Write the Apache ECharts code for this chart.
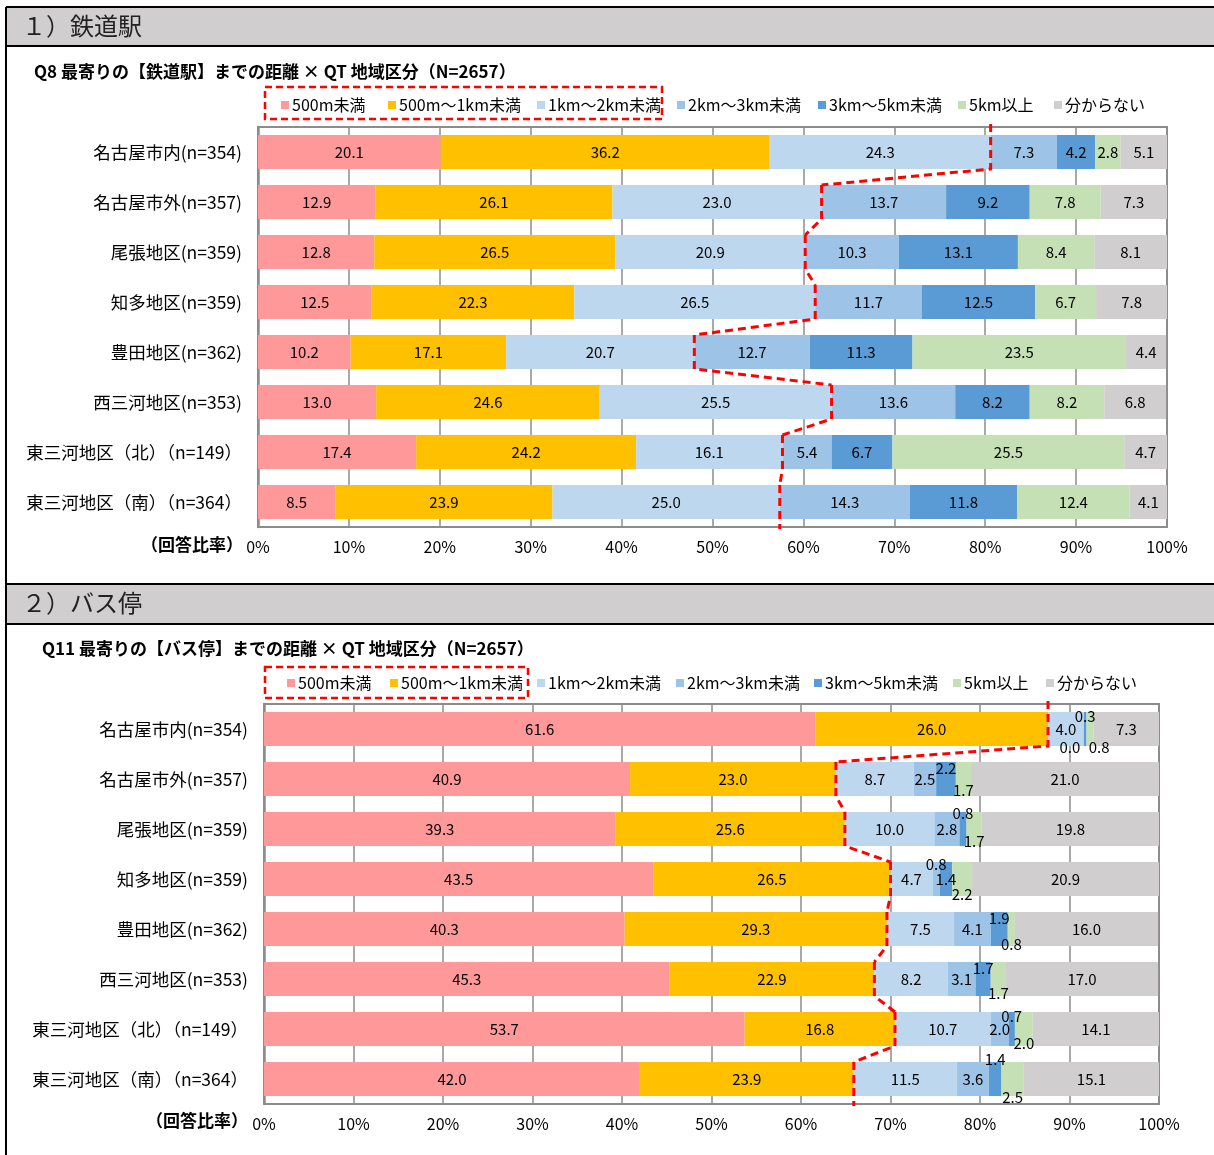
<!DOCTYPE html>
<html><head><meta charset="utf-8">
<script src="https://cdn.jsdelivr.net/npm/echarts@6/dist/echarts.min.js"></script>
<style>html,body{margin:0;padding:0;background:#fff}#c{width:1214px;height:1155px}</style>
</head><body><div id="c"></div>
<script>
// ---- data ----
const categories = ['名古屋市内(n=354)','名古屋市外(n=357)','尾張地区(n=359)','知多地区(n=359)','豊田地区(n=362)','西三河地区(n=353)','東三河地区（北）（n=149）','東三河地区（南）（n=364）'];
const seriesNames = ['500m未満','500m～1km未満','1km～2km未満','2km～3km未満','3km～5km未満','5km以上','分からない'];
const xTickLabels = ['0%','10%','20%','30%','40%','50%','60%','70%','80%','90%','100%'];

const railUnder500 = [20.1,12.9,12.8,12.5,10.2,13.0,17.4,8.5];
const rail500to1k  = [36.2,26.1,26.5,22.3,17.1,24.6,24.2,23.9];
const rail1to2k    = [24.3,23.0,20.9,26.5,20.7,25.5,16.1,25.0];
const rail2to3k    = [7.3,13.7,10.3,11.7,12.7,13.6,5.4,14.3];
const rail3to5k    = [4.2,9.2,13.1,12.5,11.3,8.2,6.7,11.8];
const railOver5k   = [2.8,7.8,8.4,6.7,23.5,8.2,25.5,12.4];
const railUnknown  = [5.1,7.3,8.1,7.8,4.4,6.8,4.7,4.1];

const busUnder500 = [61.6,40.9,39.3,43.5,40.3,45.3,53.7,42.0];
const bus500to1k  = [26.0,23.0,25.6,26.5,29.3,22.9,16.8,23.9];
const bus1to2k    = [4.0,8.7,10.0,4.7,7.5,8.2,10.7,11.5];
const bus2to3k    = [0.0,2.5,2.8,0.8,4.1,3.1,2.0,3.6];
const bus3to5k    = [0.3,2.2,0.8,1.4,1.9,1.7,0.7,1.4];
const busOver5k   = [0.8,1.7,1.7,2.2,0.8,1.7,2.0,2.5];
const busUnknown  = [7.3,21.0,19.8,20.9,16.0,17.0,14.1,15.1];

// ---- styling ----
const colors = ['#FF9999','#FFC000','#BDD7EE','#9DC3E6','#5B9BD5','#C5E0B4','#D0CECE'];
const FONT = 'Noto Sans CJK JP';
const GRAY = '#8c8c8c';
// label nudges for tiny segments in chart 2: "row-series": [dx, dy]
const busLabelNudge = {
  '0-3':[-14,18],'0-4':[0,-13],'0-5':[9,18],
  '1-4':[0,-11],'1-5':[0,11],
  '2-4':[0,-16],'2-5':[0,12],
  '3-3':[0,-15],'3-5':[0,15],
  '4-4':[0,-11],'4-5':[0,15],
  '5-4':[0,-11],'5-5':[0,14],
  '6-4':[0,-13],'6-5':[0,14],
  '7-4':[0,-20],'7-5':[0,18]
};

const railSets = [railUnder500,rail500to1k,rail1to2k,rail2to3k,rail3to5k,railOver5k,railUnknown];
const busSets  = [busUnder500,bus500to1k,bus1to2k,bus2to3k,bus3to5k,busOver5k,busUnknown];

function cumulative(sets, k){
  return categories.map((_,i)=>{let s=0;for(let j=0;j<k;j++) s+=sets[j][i];return +s.toFixed(1);});
}

function barSeries(sets, g, nudge){
  return sets.map((arr, si)=>({
    type:'bar', name:seriesNames[si], stack:'s'+g, xAxisIndex:g, yAxisIndex:g,
    barCategoryGap:'32%',
    itemStyle:{color:colors[si]},
    label:{show:true, position:'inside', color:'#000', fontSize:15, fontFamily:FONT,
      formatter:p=>Number(p.value).toFixed(1)},
    data: arr.map((v,ri)=>{
      const n = nudge && nudge[ri+'-'+si];
      return n ? {value:v, label:{offset:n}} : v;
    }),
    z:2
  }));
}

function boundary(cum, g){
  const n = cum.length;
  return {
    type:'custom', xAxisIndex:g, yAxisIndex:g, silent:true, z:10, clip:false,
    data: cum.map((v,i)=>[v,i]),
    encode:{x:0,y:1},
    renderItem:(params, api)=>{
      const i = params.dataIndex;
      const p = api.coord([cum[i], i]);
      const band = api.size([0,1])[1];
      const half = band*0.34;
      const cs = params.coordSys;
      const top = i===0 ? cs.y-3 : p[1]-half;
      const bot = i===n-1 ? cs.y+cs.height+2 : p[1]+half;
      const pts = [[p[0],top],[p[0],bot]];
      if(i<n-1){const q = api.coord([cum[i+1], i+1]); pts.push([q[0], q[1]-half]);}
      return {type:'polyline', shape:{points:pts},
        style:{stroke:'#FF0000', lineWidth:3, lineDash:[8,5], fill:null}};
    }
  };
}

function xAxis(g){
  return {gridIndex:g, type:'value', min:0, max:100, interval:10,
    axisLabel:{formatter:v=>xTickLabels[Math.round(v/10)], fontSize:16, color:'#000', margin:12, fontFamily:FONT},
    splitLine:{lineStyle:{color:GRAY, width:1.5}},
    axisLine:{show:false}, axisTick:{show:false}};
}
function yAxis(g){
  return {gridIndex:g, type:'category', data:categories, inverse:true,
    axisLine:{lineStyle:{color:GRAY, width:2.5}},
    axisTick:{length:5, lineStyle:{color:GRAY, width:1.5}},
    axisLabel:{fontSize:17.5, color:'#000', margin:16, fontFamily:FONT}};
}

function legends(xs, cy){
  return seriesNames.map((nm,i)=>({
    data:[nm], left:xs[i], top:cy-10, padding:0, itemWidth:8, itemHeight:8, icon:'rect',
    selectedMode:false,
    textStyle:{fontSize:16, color:'#000', fontFamily:FONT, lineHeight:20, padding:[0,0,0,-2]}
  }));
}

const railCum = cumulative(railSets, 3);
const busCum  = cumulative(busSets, 2);

const graphic = [
  // frame + section headers
  {type:'rect', shape:{x:6,y:7,width:1210,height:39}, style:{fill:'#D0CECE', stroke:null}},
  {type:'rect', shape:{x:6,y:584,width:1210,height:40}, style:{fill:'#D0CECE', stroke:null}},
  {type:'line', shape:{x1:6,y1:7,x2:1214,y2:7}, style:{stroke:'#000', lineWidth:2}},
  {type:'line', shape:{x1:6,y1:46,x2:1214,y2:46}, style:{stroke:'#000', lineWidth:2}},
  {type:'line', shape:{x1:6,y1:584,x2:1214,y2:584}, style:{stroke:'#000', lineWidth:2}},
  {type:'line', shape:{x1:6,y1:624,x2:1214,y2:624}, style:{stroke:'#000', lineWidth:2}},
  {type:'line', shape:{x1:6,y1:7,x2:6,y2:1155}, style:{stroke:'#000', lineWidth:2}},
  {type:'text', left:22, top:14, style:{text:'１）鉄道駅', fontSize:24, fill:'#222', fontFamily:FONT}},
  {type:'text', left:22, top:591, style:{text:'２）バス停', fontSize:24, fill:'#222', fontFamily:FONT}},
  // titles
  {type:'text', left:34, top:63, style:{text:'Q8 最寄りの【鉄道駅】までの距離 × QT 地域区分（N=2657）', fontSize:17, fontWeight:'bold', fill:'#000', fontFamily:FONT}},
  {type:'text', left:42, top:640, style:{text:'Q11 最寄りの【バス停】までの距離 × QT 地域区分（N=2657）', fontSize:17, fontWeight:'bold', fill:'#000', fontFamily:FONT}},
  // axis captions
  {type:'text', right:1214-243, top:536, style:{text:'（回答比率）', fontSize:17, fontWeight:'bold', fill:'#000', fontFamily:FONT}},
  {type:'text', right:1214-248, top:1112, style:{text:'（回答比率）', fontSize:17, fontWeight:'bold', fill:'#000', fontFamily:FONT}},
  // dashed highlight boxes around legend entries
  {type:'rect', shape:{x:265,y:87,width:397,height:32}, style:{fill:null, stroke:'#FF0000', lineWidth:2.5, lineDash:[7,4]}, z:20},
  {type:'rect', shape:{x:265,y:667,width:263,height:31}, style:{fill:null, stroke:'#FF0000', lineWidth:2.5, lineDash:[7,4]}, z:20}
];

const option = {
  animation:false,
  textStyle:{fontFamily:FONT},
  grid:[
    {left:258, right:1214-1167, top:127, bottom:1155-527, show:true, borderColor:GRAY, borderWidth:2},
    {left:264, right:1214-1159, top:704, bottom:1155-1104, show:true, borderColor:GRAY, borderWidth:2}
  ],
  xAxis:[xAxis(0), xAxis(1)],
  yAxis:[yAxis(0), yAxis(1)],
  legend:[...legends([281,388,537,677,818,958,1054],105), ...legends([287,390,537,676,814,953,1046],683)],
  graphic: graphic,
  series:[
    ...barSeries(railSets,0,null),
    ...barSeries(busSets,1,busLabelNudge),
    boundary(railCum,0),
    boundary(busCum,1)
  ]
};
const chart = echarts.init(document.getElementById('c'), null, {renderer:'canvas'});
chart.setOption(option);
</script>
</body></html>
